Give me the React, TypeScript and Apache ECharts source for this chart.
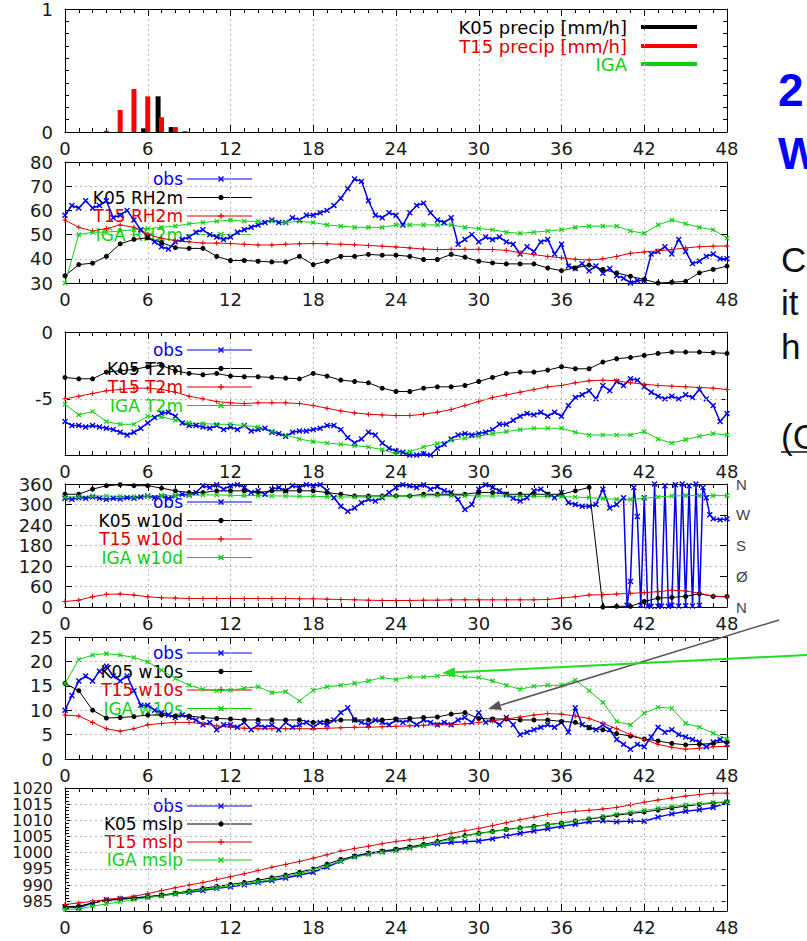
import React, { useEffect, useRef } from 'react';
import * as echarts from 'echarts';

// ---------------- data ----------------
const HOURS = Array.from({ length: 49 }, (_, i) => i);
const HALF_HOURS = Array.from({ length: 97 }, (_, i) => i / 2);
const X_TICK_STEP = 6;

// precipitation [mm/h]
const PRECIP_K05_HOURS = [5.7, 6.75, 7.7, 8.7];
const PRECIP_K05 = [0.03, 0.29, 0.04, 0.005];
const PRECIP_T15_HOURS = [3, 4, 5, 6, 7, 8];
const PRECIP_T15 = [0.01, 0.18, 0.35, 0.29, 0.12, 0.04];

// relative humidity 2 m [%]
const RH_OBS = [58, 62, 61, 64, 61, 62, 64, 57, 58, 60, 56, 52, 49, 47, 45, 44, 47, 48, 49, 51, 52, 50, 49, 48, 49, 51, 52, 53, 54, 55, 56, 55, 55, 57, 56, 58, 58, 59, 60, 62, 65, 69, 73, 72, 64, 58, 57, 59, 58, 54, 59, 62, 63, 59, 56, 55, 57, 46, 48, 50, 47, 49, 48, 49, 47, 46, 42, 45, 43, 47, 48, 42, 46, 37, 36, 38, 35, 37, 34, 36, 33, 32, 30, 31, 31, 42, 43, 45, 42, 48, 43, 38, 39, 41, 42, 40, 40];
const RH_K05 = [33, 37.6, 38.2, 41, 46.2, 48, 48.7, 46.7, 44.6, 44.3, 44.3, 41, 39.3, 39.3, 39, 38.7, 38.7, 41, 37.6, 39, 41, 41, 41.8, 41.5, 41.5, 41, 39.7, 39.7, 41.8, 40.7, 39, 38.3, 37.9, 37.9, 37.9, 36.2, 35.1, 36.2, 37.4, 35.6, 34.2, 32.8, 31.4, 30, 30.3, 30.7, 34.2, 35.6, 37];
const RH_T15 = [56, 53, 51.5, 52.5, 54, 53, 50, 48.5, 47.5, 47, 46.5, 46.5, 46.3, 46, 45.7, 45.7, 46, 46.2, 46.3, 46.2, 46, 45.8, 45.5, 45.2, 44.9, 44.5, 44, 43.8, 43.9, 43.9, 43.9, 43.8, 43.5, 42.5, 41.7, 41, 40.4, 39.8, 39.5, 40, 41, 42.3, 42.8, 43.3, 43.8, 44.5, 45, 45.2, 45.3];
const RH_IGA = [30, 50, 51, 51, 51.5, 52, 52.5, 53, 53.5, 54.5, 55, 55.5, 56, 55.5, 55.5, 55.5, 55, 55.5, 55, 54, 53.5, 53, 53, 53, 54, 54, 54, 54, 54, 53, 52.5, 52, 51, 50.5, 51, 51.5, 52, 53, 53.5, 53.5, 53.5, 51.5, 50.5, 54, 56, 54.5, 53, 52, 48.5];

// temperature 2 m [C]
const T_OBS = [-6.7, -7.0, -7.0, -7.1, -7.0, -7.1, -7.2, -7.3, -7.5, -7.7, -7.5, -7.2, -6.8, -6.4, -6.1, -6.0, -6.3, -6.8, -7.0, -7.0, -7.1, -7.2, -7.0, -7.3, -7.1, -7.3, -7.0, -7.4, -7.3, -7.2, -7.5, -7.6, -7.8, -7.5, -7.4, -7.4, -7.3, -7.2, -7.0, -7.0, -7.3, -7.9, -8.3, -8.0, -7.5, -7.7, -8.3, -8.7, -8.9, -9.0, -9.2, -9.2, -9.1, -9.2, -8.7, -8.4, -8.0, -7.7, -7.6, -7.7, -7.6, -7.5, -7.3, -6.9, -6.9, -6.6, -6.3, -6.1, -6.2, -6.0, -6.3, -6.0, -6.3, -5.5, -4.9, -4.7, -4.4, -5.0, -4.0, -4.4, -3.7, -4.0, -3.5, -3.6, -4.1, -4.5, -4.8, -5.0, -4.8, -5.0, -4.7, -4.9, -4.3, -5.0, -5.5, -6.7, -6.1];
const T_K05 = [-3.4, -3.5, -3.5, -3.0, -2.9, -2.8, -2.6, -2.5, -2.9, -3.1, -3.2, -3.1, -3.3, -3.35, -3.35, -3.4, -3.45, -3.5, -3.1, -3.3, -3.6, -3.7, -3.8, -4.2, -4.45, -4.45, -4.2, -4.1, -4.1, -4.0, -3.7, -3.4, -3.1, -3.0, -3.0, -2.85, -2.6, -2.75, -2.75, -2.25, -2.0, -1.9, -1.75, -1.6, -1.5, -1.5, -1.5, -1.55, -1.6];
const T_T15 = [-5.0, -4.8, -4.6, -4.4, -4.3, -4.2, -4.2, -4.3, -4.5, -4.8, -5.0, -5.2, -5.3, -5.35, -5.3, -5.3, -5.3, -5.35, -5.5, -5.7, -5.9, -6.05, -6.15, -6.2, -6.25, -6.25, -6.15, -6.0, -5.8, -5.5, -5.2, -4.9, -4.7, -4.5, -4.3, -4.1, -4.0, -3.8, -3.65, -3.6, -3.65, -3.8, -3.9, -4.0, -4.05, -4.1, -4.15, -4.2, -4.3];
const T_IGA = [-5.4, -6.2, -5.95, -6.7, -6.9, -6.9, -6.3, -6.35, -6.6, -6.8, -6.85, -6.9, -6.9, -7.0, -7.1, -7.4, -7.7, -8.0, -8.2, -8.3, -8.4, -8.5, -8.6, -8.8, -9.1, -8.95, -8.6, -8.35, -8.1, -7.95, -7.8, -7.6, -7.45, -7.3, -7.2, -7.2, -7.2, -7.5, -7.7, -7.7, -7.7, -7.7, -7.45, -8.0, -8.3, -8.05, -7.8, -7.6, -7.7];

// wind direction 10 m [deg]
const WD_OBS = [[0, 318], [0.5, 315], [1, 320], [1.5, 318], [2, 322], [2.5, 318], [3, 315], [3.5, 318], [4, 316], [4.5, 320], [5, 318], [5.5, 322], [6, 325], [6.5, 320], [7, 325], [7.5, 318], [8, 325], [8.5, 330], [9, 328], [9.5, 335], [10, 355], [10.5, 350], [11, 358], [11.5, 345], [12, 355], [12.5, 358], [13, 350], [13.5, 335], [14, 340], [14.5, 330], [15, 345], [15.5, 350], [16, 340], [16.5, 355], [17, 350], [17.5, 358], [18, 355], [18.5, 358], [19, 340], [19.5, 320], [20, 295], [20.5, 280], [21, 290], [21.5, 305], [22, 315], [22.5, 310], [23, 320], [23.5, 335], [24, 350], [24.5, 358], [25, 355], [25.5, 350], [26, 358], [26.5, 345], [27, 352], [27.5, 340], [28, 335], [28.5, 315], [29, 285], [29.5, 300], [30, 345], [30.5, 358], [31, 350], [31.5, 340], [32, 330], [32.5, 318], [33, 310], [33.5, 320], [34, 340], [34.5, 345], [35, 330], [35.5, 320], [36, 335], [36.5, 305], [37, 300], [37.5, 295], [38, 295], [38.5, 300], [39, 345], [39.5, 290], [40, 300], [40.5, 320], [40.75, 5], [41, 75], [41.25, 350], [41.5, 265], [41.75, 5], [42, 320], [42.25, 3], [42.5, 2], [42.75, 360], [43, 2], [43.25, 3], [43.5, 355], [43.75, 2], [44, 5], [44.25, 358], [44.5, 3], [44.75, 360], [45, 4], [45.25, 355], [45.5, 3], [45.75, 360], [46, 5], [46.25, 350], [46.5, 320], [46.75, 270], [47, 258], [47.5, 255], [48, 258]];
const WD_K05 = [330, 330, 345, 355, 358, 355, 355, 348, 340, 335, 335, 340, 340, 340, 335, 340, 340, 340, 340, 335, 330, 325, 325, 325, 325, 325, 330, 330, 330, 330, 335, 335, 330, 330, 330, 330, 330, 340, 350, 0, 2, 2, 16, 26, 28, 31, 39, 31, 31];
const WD_T15 = [16, 20, 30, 37, 38, 35, 30, 27, 26, 25, 25, 25, 25, 25, 25, 25, 25, 24, 24, 23, 22, 21, 20, 19, 19, 19, 20, 20, 21, 21, 21, 21, 21, 21, 21, 22, 26, 30, 35, 36, 38, 40, 42, 45, 49, 47, 40, 32, 29];
const WD_IGA = [322, 323, 325, 325, 324, 323, 325, 326, 326, 327, 328, 328, 327, 326, 326, 325, 325, 324, 324, 323, 322, 322, 322, 323, 324, 325, 325, 326, 326, 326, 325, 325, 325, 324, 324, 324, 323, 322, 320, 318, 315, 315, 318, 322, 325, 326, 326, 326, 326];
const WD_COMPASS: Record<number, string> = { 0: 'N', 90: 'Ø', 180: 'S', 270: 'W', 360: 'N' };

// wind speed 10 m [m/s]
const WS_OBS = [10, 13, 16, 17, 16, 18, 19, 17, 16, 17, 14, 11, 11, 10, 9.5, 9, 8.5, 9, 8.5, 8, 7, 7.5, 6, 7, 7, 6.5, 7.5, 6, 7, 6.5, 7, 6, 7.5, 6.5, 7, 7.5, 6.5, 7.5, 7, 8, 9.5, 10.5, 8, 7.5, 7, 8, 7.5, 7, 8, 7.5, 8, 7, 8, 7.5, 7, 7.5, 7, 8, 8.5, 7.5, 9.5, 7.5, 8, 7, 8.5, 7, 5, 5.5, 6, 6.5, 7, 6.5, 7.5, 5.5, 10.5, 7, 6.5, 6, 7, 6, 4, 3, 2, 3, 2.5, 4.5, 6.5, 5.5, 6, 5, 4.5, 4, 3.5, 2.5, 3.5, 4, 3];
const WS_K05 = [15.5, 14, 10, 8.4, 8.5, 8.7, 9, 9, 8.8, 8.8, 8.5, 8.3, 8.2, 8, 8, 8, 8, 8, 7.5, 7.8, 8, 8, 8, 8, 8.2, 8.3, 8.5, 8.6, 9.2, 9.5, 8.3, 8.2, 8.2, 8, 8, 8, 7.7, 7.5, 6.4, 6, 5.2, 4.7, 4.1, 3.7, 3.2, 2.9, 3, 3.2, 3.6];
const WS_T15 = [9, 8.8, 7.5, 6.2, 5.7, 6.2, 7, 7.3, 7.5, 7.5, 7.2, 6.8, 6.5, 6.3, 6.2, 6.2, 6.2, 6.2, 6.2, 6.3, 6.4, 6.5, 6.5, 6.6, 6.7, 6.8, 6.9, 7, 7, 7.2, 7.5, 7.8, 8.2, 8.6, 9, 9.3, 9.2, 8.8, 8.3, 7.3, 6.2, 5, 4, 3, 2.4, 2, 2.2, 2.5, 2.6];
const WS_IGA = [15.5, 20.4, 21.3, 21.6, 21.3, 20.8, 19.9, 18.2, 16.5, 15.1, 14.3, 14, 14.1, 14.5, 14.8, 13.6, 13.8, 11.9, 14.1, 14.8, 15.1, 15.5, 16, 16.7, 16.3, 16.8, 16.8, 17, 17.2, 16.8, 16.7, 16, 15.1, 14.3, 14.9, 15.1, 15.1, 16.2, 14, 11.6, 7.7, 7, 9.4, 10.6, 10.4, 7.3, 6.5, 5.3, 4.1];

// mean sea level pressure [hPa]
const P_OBS = [983.3, 983.0, 984.5, 985.5, 985.8, 986.0, 986.3, 986.8, 987.3, 987.8, 988.3, 989.0, 989.5, 990.1, 990.8, 991.4, 992.2, 993.1, 994.0, 995.6, 997.4, 998.8, 999.7, 1000.3, 1000.8, 1001.5, 1002.2, 1002.8, 1003.2, 1003.4, 1003.6, 1004.3, 1005.2, 1006.0, 1006.7, 1007.4, 1008.2, 1008.8, 1009.6, 1009.9, 1009.6, 1009.8, 1009.7, 1011.0, 1012.0, 1012.8, 1013.3, 1014.0, 1015.5];
const P_K05 = [983.3, 983.5, 984.5, 985.2, 985.6, 986, 986.4, 986.9, 987.5, 988.2, 989, 989.6, 990.2, 990.8, 991.5, 992.3, 993.1, 994, 995, 996.5, 997.9, 999, 999.9, 1000.5, 1001.1, 1001.8, 1002.6, 1003.5, 1004.5, 1005.3, 1006, 1006.6, 1007.2, 1007.7, 1008.2, 1008.7, 1009.2, 1009.8, 1010.4, 1011, 1011.6, 1012.1, 1012.6, 1013.2, 1013.8, 1014.4, 1014.9, 1015.3, 1015.7];
const P_T15 = [984, 984.5, 985, 985.5, 986, 986.5, 987.4, 988.3, 989.2, 990, 990.8, 991.7, 992.6, 993.5, 994.5, 995.5, 996.4, 997.3, 998.3, 999.4, 1000.5, 1001.3, 1002, 1002.8, 1003.5, 1004, 1004.5, 1005.2, 1006, 1006.8, 1007.5, 1008.4, 1009.3, 1010.2, 1011, 1011.8, 1012.4, 1012.8, 1013.1, 1013.5, 1014, 1014.8, 1015.6, 1016.3, 1016.9, 1017.5, 1018, 1018.4, 1018.4];
const P_IGA = [982.5, 982.6, 983.5, 984.2, 984.8, 985.5, 986.2, 986.7, 987.3, 988, 988.7, 989.2, 989.8, 990.4, 991, 991.8, 992.7, 993.6, 994.6, 996, 997.5, 998.6, 999.5, 1000.1, 1000.7, 1001.4, 1002.2, 1003.2, 1004.2, 1005.1, 1005.9, 1006.5, 1007.1, 1007.6, 1008.1, 1008.6, 1009.1, 1009.8, 1010.5, 1011.2, 1011.9, 1012.5, 1013.1, 1013.7, 1014.3, 1014.8, 1015.2, 1015.5, 1015.7];

// legend labels
const LEGEND_PRECIP = ['K05 precip [mm/h]', 'T15 precip [mm/h]', 'IGA'];
const LEGEND_NAMES = [
  ['obs', 'K05 RH2m', 'T15 RH2m', 'IGA RH2m'],
  ['obs', 'K05 T2m', 'T15 T2m', 'IGA T2m'],
  ['obs', 'K05 w10d', 'T15 w10d', 'IGA w10d'],
  ['obs', 'K05 w10s', 'T15 w10s', 'IGA w10s'],
  ['obs', 'K05 mslp', 'T15 mslp', 'IGA mslp'],
];

// y axis scales per panel
const Y_SCALES = [
  { min: 0, max: 1, interval: 1 },
  { min: 30, max: 80, interval: 10 },
  { min: -9.2, max: 0, ticks: [-5, 0] },
  { min: 0, max: 360, interval: 60 },
  { min: 0, max: 25, interval: 5 },
  { min: 982, max: 1020, ticks: [985, 990, 995, 1000, 1005, 1010, 1015, 1020] },
];
const T_GRID = [-5];
const P_GRID = [985, 990, 995, 1000, 1005, 1010, 1015];

// ---------------- layout ----------------
const GRID_LEFT = 65;
const GRID_WIDTH = 662;
const PANEL_TOP = [9, 162, 332, 484, 637, 788];
const PANEL_H = [123, 121, 123, 123, 122, 123];
const LEGEND_Y = [
  [27, 46, 64],
  [179, 197.5, 216, 234.5],
  [350, 368.5, 387, 405.5],
  [502, 520.5, 539, 557.5],
  [653, 671.5, 690, 708.5],
  [806, 824, 842, 860],
];

const FONT = '"DejaVu Sans", sans-serif';
const SLIDE_FONT = '"Liberation Sans", Arial, sans-serif';
const COLORS: Record<string, string> = { obs: '#0000ee', k05: '#000000', t15: '#e00000', iga: '#10d010' };
const KINDS = ['obs', 'k05', 't15', 'iga'];
const PLUS = 'path://M4,0H6V10H4ZM0,4H10V6H0Z';
const GRID_LINE = { color: '#b8b8b8', type: [2, 3], width: 1 };

const pts = (xs: number[], ys: number[]) => ys.map((v, i) => [xs[i], v]);

function lineSeries(panel: number, kind: string, data: number[][], extra: any = {}) {
  const st: any = {
    obs: { symbol: PLUS, rotate: 45, size: 7, width: 1.5 },
    k05: { symbol: 'circle', rotate: 0, size: 5, width: 1 },
    t15: { symbol: PLUS, rotate: 0, size: 5, width: 1 },
    iga: { symbol: PLUS, rotate: 45, size: 6, width: 1 },
  }[kind];
  return {
    type: 'line',
    name: `${kind}-${panel}`,
    xAxisIndex: panel * 2,
    yAxisIndex: panel * 2,
    data,
    symbol: st.symbol,
    symbolSize: st.size,
    symbolRotate: st.rotate,
    showSymbol: true,
    lineStyle: { color: COLORS[kind], width: st.width },
    itemStyle: { color: COLORS[kind] },
    silent: true,
    clip: true,
    animation: false,
    ...extra,
  };
}

function gridLines(values: number[]) {
  return {
    silent: true,
    symbol: ['none', 'none'],
    label: { show: false },
    lineStyle: GRID_LINE,
    animation: false,
    data: values.map((v) => ({ yAxis: v })),
  };
}

function arrow(x1: number, y1: number, x2: number, y2: number, color: string, width: number) {
  const dx = x2 - x1;
  const dy = y2 - y1;
  const len = Math.sqrt(dx * dx + dy * dy);
  const ux = dx / len;
  const uy = dy / len;
  const hl = 13;
  const hw = 5;
  const bx = x2 - ux * hl;
  const by = y2 - uy * hl;
  return [
    { type: 'line', z: 100, shape: { x1, y1, x2: bx, y2: by }, style: { stroke: color, lineWidth: width } },
    {
      type: 'polygon',
      z: 100,
      shape: { points: [[x2, y2], [bx - uy * hw, by + ux * hw], [bx + uy * hw, by - ux * hw]] },
      style: { fill: color },
    },
  ];
}

function txt(x: number, y: number, text: string, fill: string, font: string, align = 'left', lineHeight?: number) {
  const style: any = { text, fill, font, align, textAlign: align, verticalAlign: 'middle', textVerticalAlign: 'middle' };
  if (lineHeight) style.lineHeight = lineHeight;
  return { type: 'text', x, y, z: 1, style };
}

function legendMarker(kind: string, x: number, y: number) {
  const c = COLORS[kind];
  if (kind === 'k05') return [{ type: 'circle', shape: { cx: x, cy: y, r: 2.6 }, style: { fill: c } }];
  if (kind === 't15')
    return [
      { type: 'line', shape: { x1: x - 3, y1: y, x2: x + 3, y2: y }, style: { stroke: c, lineWidth: 1.2 } },
      { type: 'line', shape: { x1: x, y1: y - 3, x2: x, y2: y + 3 }, style: { stroke: c, lineWidth: 1.2 } },
    ];
  return [
    { type: 'line', shape: { x1: x - 2.5, y1: y - 2.5, x2: x + 2.5, y2: y + 2.5 }, style: { stroke: c, lineWidth: 1.5 } },
    { type: 'line', shape: { x1: x - 2.5, y1: y + 2.5, x2: x + 2.5, y2: y - 2.5 }, style: { stroke: c, lineWidth: 1.5 } },
  ];
}

function buildOption() {
  const grids = PANEL_TOP.map((top, i) => ({ left: GRID_LEFT, width: GRID_WIDTH, top, height: PANEL_H[i] }));
  const xAxis: any[] = [];
  const yAxis: any[] = [];
  for (let g = 0; g < 6; g++) {
    const common = {
      gridIndex: g,
      type: 'value',
      min: HOURS[0],
      max: HOURS[HOURS.length - 1],
      interval: X_TICK_STEP,
      axisLine: { onZero: false, lineStyle: { color: '#000', width: 1 } },
      axisTick: { inside: true, length: 7, lineStyle: { color: '#000' } },
      minorTick: { show: true, splitNumber: 6, length: 4, lineStyle: { color: '#000' } },
    };
    xAxis.push({
      ...common,
      position: 'bottom',
      axisLabel: { fontFamily: FONT, fontSize: 18, color: '#1a1a1a', margin: 7, showMinLabel: true, showMaxLabel: true },
      splitLine: { show: true, lineStyle: GRID_LINE },
    });
    xAxis.push({ ...common, position: 'top', axisLabel: { show: false }, splitLine: { show: false } });

    const s: any = Y_SCALES[g];
    const yCommon: any = {
      gridIndex: g,
      type: 'value',
      min: s.min,
      max: s.max,
      axisLine: { onZero: false, show: true, lineStyle: { color: '#000', width: 1 } },
      axisTick: { inside: true, length: 7, lineStyle: { color: '#000' } },
    };
    if (s.interval) yCommon.interval = s.interval;
    const isP = g === 5;
    const left: any = {
      ...yCommon,
      position: 'left',
      axisLabel: {
        fontFamily: FONT,
        fontSize: isP ? 16 : 18,
        lineHeight: isP ? 15 : 18,
        color: '#1a1a1a',
        margin: 12,
        showMinLabel: true,
        showMaxLabel: true,
        formatter: (v: number) => String(v),
      },
      splitLine: { show: g === 1 || g === 3 || g === 4, lineStyle: GRID_LINE },
    };
    const right: any = { ...yCommon, position: 'right', axisLabel: { show: false }, splitLine: { show: false } };
    if (s.ticks) {
      left.axisLabel.customValues = s.ticks;
      left.axisTick = { ...left.axisTick, customValues: s.ticks };
      right.axisTick = { ...right.axisTick, customValues: s.ticks };
    }
    if (g === 0) {
      left.minorTick = { show: true, splitNumber: 10, length: 4, lineStyle: { color: '#000' } };
      right.minorTick = { show: true, splitNumber: 10, length: 4, lineStyle: { color: '#000' } };
    }
    if (g === 3) {
      right.interval = 90;
      right.axisLabel = {
        show: true,
        fontFamily: SLIDE_FONT,
        fontSize: 15,
        color: '#444',
        margin: 9,
        showMinLabel: true,
        showMaxLabel: true,
        formatter: (v: number) => WD_COMPASS[v] ?? '',
      };
    }
    yAxis.push(left, right);
  }
  // dense minor ticks of the pressure panel
  yAxis.push({
    gridIndex: 5,
    type: 'value',
    position: 'left',
    min: Y_SCALES[5].min,
    max: Y_SCALES[5].max,
    interval: 1,
    axisLine: { show: false },
    axisTick: { inside: true, length: 4, lineStyle: { color: '#000' } },
    axisLabel: { show: false },
    splitLine: { show: false },
  });

  const series: any[] = [];
  // precipitation bars
  series.push({
    type: 'bar',
    name: 'K05 precip',
    xAxisIndex: 0,
    yAxisIndex: 0,
    data: pts(PRECIP_K05_HOURS, PRECIP_K05),
    barWidth: 5,
    itemStyle: { color: '#000' },
    silent: true,
  });
  series.push({
    type: 'bar',
    name: 'T15 precip',
    xAxisIndex: 0,
    yAxisIndex: 0,
    data: pts(PRECIP_T15_HOURS, PRECIP_T15),
    barWidth: 5,
    barGap: '-100%',
    itemStyle: { color: '#ff0000' },
    silent: true,
  });

  const panelData = [
    [pts(HALF_HOURS, RH_OBS), pts(HOURS, RH_K05), pts(HOURS, RH_T15), pts(HOURS, RH_IGA)],
    [pts(HALF_HOURS, T_OBS), pts(HOURS, T_K05), pts(HOURS, T_T15), pts(HOURS, T_IGA)],
    [WD_OBS, pts(HOURS, WD_K05), pts(HOURS, WD_T15), pts(HOURS, WD_IGA)],
    [pts(HALF_HOURS, WS_OBS), pts(HOURS, WS_K05), pts(HOURS, WS_T15), pts(HOURS, WS_IGA)],
    [pts(HOURS, P_OBS), pts(HOURS, P_K05), pts(HOURS, P_T15), pts(HOURS, P_IGA)],
  ];
  panelData.forEach((arr, i) => {
    const panel = i + 1;
    arr.forEach((data, k) => {
      const extra: any = {};
      if (k === 0 && panel === 2) extra.markLine = gridLines(T_GRID);
      if (k === 0 && panel === 5) extra.markLine = gridLines(P_GRID);
      series.push(lineSeries(panel, KINDS[k], data, extra));
    });
  });

  // ---- graphics: legends, slide text, arrows ----
  const graphics: any[] = [];
  LEGEND_PRECIP.forEach((label, i) => {
    const kind = KINDS[i + 1];
    const y = LEGEND_Y[0][i];
    graphics.push(txt(627, y, label, COLORS[kind], `18px ${FONT}`, 'right', 16));
    graphics.push({
      type: 'line',
      shape: { x1: 641, y1: y, x2: 697, y2: y },
      style: { stroke: kind === 't15' ? '#ff0000' : COLORS[kind], lineWidth: 4 },
    });
  });
  LEGEND_NAMES.forEach((names, p) => {
    names.forEach((label, i) => {
      const kind = KINDS[i];
      const y = LEGEND_Y[p + 1][i];
      graphics.push(txt(183, y, label, COLORS[kind], `17px ${FONT}`, 'right', 16));
      graphics.push({
        type: 'line',
        shape: { x1: 187, y1: y, x2: 252, y2: y },
        style: { stroke: COLORS[kind], lineWidth: 1 },
      });
      graphics.push(...legendMarker(kind, 221, y));
    });
  });

  // slide text on the right
  graphics.push(txt(778, 90, '2', '#0000ff', `bold 46px ${SLIDE_FONT}`));
  graphics.push(txt(778, 153, 'W', '#0000ff', `bold 44px ${SLIDE_FONT}`));
  graphics.push(txt(781, 259, 'C', '#111', `35px ${SLIDE_FONT}`));
  graphics.push(txt(781, 302, 'it', '#111', `35px ${SLIDE_FONT}`));
  graphics.push(txt(781, 346, 'h', '#111', `35px ${SLIDE_FONT}`));
  graphics.push(txt(781, 436, '(C', '#111', `35px ${SLIDE_FONT}`));
  graphics.push({ type: 'line', shape: { x1: 781, y1: 452, x2: 807, y2: 452 }, style: { stroke: '#111', lineWidth: 1.5 } });

  graphics.push(...arrow(779, 620, 488, 709, '#555555', 1.5));
  graphics.push(...arrow(807, 655, 442, 673, '#22dd22', 2));

  return {
    animation: false,
    backgroundColor: '#ffffff',
    grid: grids,
    xAxis,
    yAxis,
    series,
    graphic: { elements: graphics },
  };
}

export default function App() {
  const ref = useRef<HTMLDivElement>(null);
  useEffect(() => {
    if (!ref.current) return;
    const chart = echarts.init(ref.current, undefined, { renderer: 'svg' });
    chart.setOption(buildOption() as any);
    return () => chart.dispose();
  }, []);
  return <div ref={ref} style={{ position: 'absolute', left: 0, top: 0, width: 807, height: 941 }} />;
}
